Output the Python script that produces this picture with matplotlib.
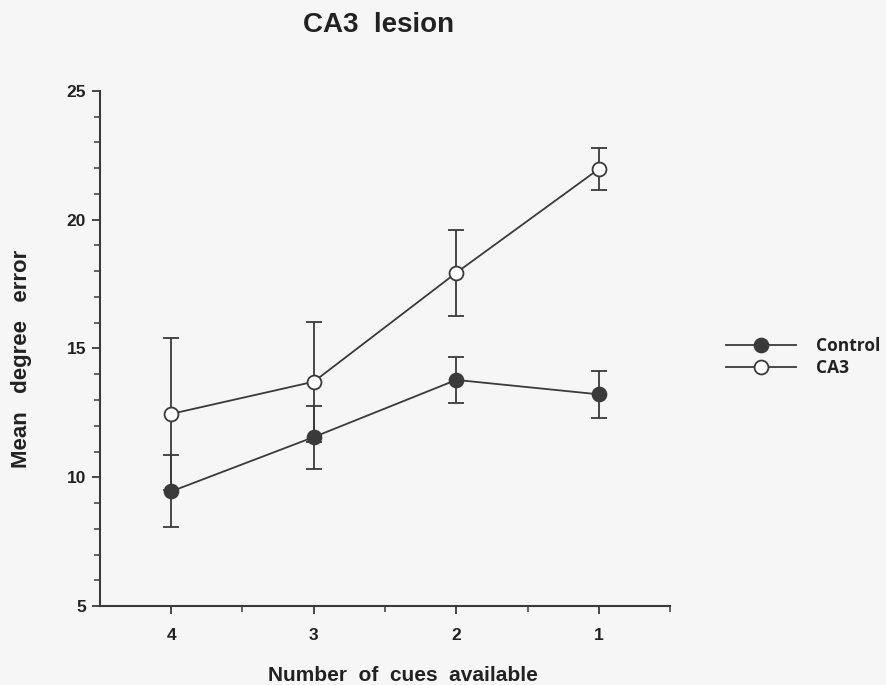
import matplotlib.pyplot as plt
import numpy as np
from matplotlib.lines import Line2D
from matplotlib.ticker import MultipleLocator, FixedLocator

# Mean degree error by number of cues available
cue_labels = ['4', '3', '2', '1']
control_mean = [9.45, 11.56, 13.78, 13.22]
control_sem = [1.4, 1.22, 0.88, 0.92]
ca3_mean = [12.46, 13.71, 17.94, 21.97]
ca3_sem = [2.96, 2.33, 1.68, 0.82]

bg = '#f6f6f6'
ink = '#3a3a3a'
txt = '#222222'

fig = plt.figure(figsize=(8.87, 6.85), dpi=100, facecolor=bg)
ax = fig.add_axes([0.1127, 0.1153, 0.6427, 0.7519], facecolor=bg)

x = np.arange(len(cue_labels))

style = dict(color=ink, lw=1.3, capsize=6, elinewidth=1.3, capthick=1.3,
             marker='o', markersize=10, markeredgecolor=ink, markeredgewidth=1.3)
ax.errorbar(x, ca3_mean, yerr=ca3_sem, markerfacecolor='white', zorder=2, **style)
ax.errorbar(x, control_mean, yerr=control_sem, markerfacecolor=ink, zorder=3, **style)

ax.set_xlim(-0.5, 3.5)
ax.set_ylim(5, 25)
ax.set_xticks(x)
ax.set_xticklabels(cue_labels)
ax.xaxis.set_minor_locator(FixedLocator([0.5, 1.5, 2.5, 3.5]))
ax.yaxis.set_major_locator(MultipleLocator(5))
ax.yaxis.set_minor_locator(MultipleLocator(1))

for side in ['top', 'right']:
    ax.spines[side].set_visible(False)
for side in ['left', 'bottom']:
    ax.spines[side].set_color(ink)
    ax.spines[side].set_linewidth(1.5)

ax.tick_params(which='major', length=6, width=1.3, color=ink, direction='out')
ax.tick_params(which='minor', length=4, width=1.1, color=ink, direction='out')
for lbl in ax.get_xticklabels() + ax.get_yticklabels():
    lbl.set_fontfamily('Liberation Sans')
    lbl.set_fontweight('bold')
    lbl.set_fontsize(12.5)
    lbl.set_color(txt)
ax.tick_params(axis='x', pad=10)
ax.tick_params(axis='y', pad=4)

fig.text(0.427, 0.963, 'CA3  lesion', ha='center', va='center',
         fontsize=20, fontweight='bold', family='Liberation Sans', color=txt)
fig.text(0.454, 0.014, 'Number  of  cues  available', ha='center', va='center',
         fontsize=15, fontweight='bold', family='Liberation Sans', color=txt)
fig.text(0.024, 0.476, 'Mean   degree   error', ha='center', va='center', rotation=90,
         fontsize=16, fontweight='bold', family='Liberation Sans', color=txt)

handles = [
    Line2D([], [], color=ink, lw=1.3, marker='o', markersize=10,
           markerfacecolor=ink, markeredgecolor=ink, markeredgewidth=1.3),
    Line2D([], [], color=ink, lw=1.3, marker='o', markersize=10,
           markerfacecolor='white', markeredgecolor=ink, markeredgewidth=1.3),
]
leg = fig.legend(handles=handles, labels=['Control', 'CA3'],
                 loc='center left', bbox_to_anchor=(0.801, 0.479), frameon=False,
                 handlelength=4.0, handletextpad=1.15, labelspacing=0.2,
                 prop={'family': 'Open Sans', 'weight': 'bold', 'size': 12.5})
for t in leg.get_texts():
    t.set_color(txt)

fig.savefig('out.png', dpi=100, facecolor=bg)
